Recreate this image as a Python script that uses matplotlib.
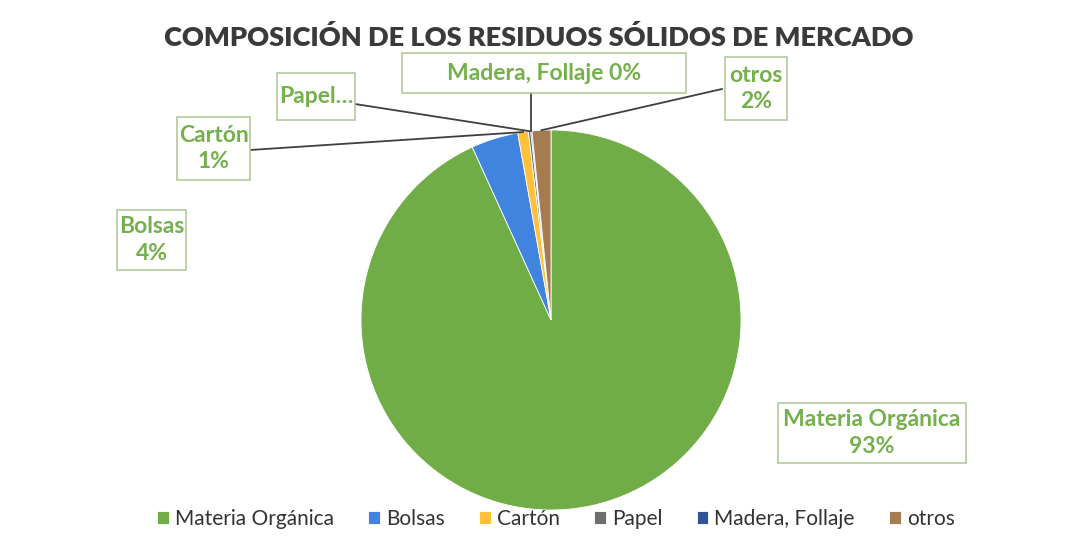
# Composición de los residuos sólidos de mercado - gráfico de pastel
import numpy as np
import matplotlib.pyplot as plt
from matplotlib.patches import Rectangle

categorias = ["Materia Orgánica", "Bolsas", "Cartón", "Papel", "Madera, Follaje", "otros"]
porcentajes = [93.2, 4.0, 0.9, 0.2, 0.1, 1.6]
etiquetas = ["Materia Orgánica\n93%", "Bolsas\n4%", "Cartón\n1%", "Papel…",
             "Madera, Follaje 0%", "otros\n2%"]
colores = ["#70AD47", "#4184E0", "#FFC13B", "#6E6E6E", "#2F5597", "#A57C52"]

W, H = 1081, 551
plt.rcParams['font.family'] = ['Lato', 'DejaVu Sans']


def Y(y):
    # coordenada en pixeles (desde arriba) -> datos
    return H - y


fig = plt.figure(figsize=(W / 100, H / 100), dpi=100)
ax = fig.add_axes([0, 0, 1, 1])

cx, cy, r = 551, 320, 190
wedges, _ = ax.pie(porcentajes, colors=colores, startangle=90, counterclock=False,
                   center=(cx, Y(cy)), radius=r,
                   wedgeprops=dict(edgecolor="white", linewidth=0.6))
ax.set_xlim(0, W)
ax.set_ylim(0, H)
ax.set_aspect("equal")
ax.axis("off")

# cajas de etiquetas: (x0, y0, x1, y1) en pixeles, y punto de unión de la línea guía
cajas = [
    (778, 403, 966, 463, None),
    (117, 210, 186, 270, None),
    (177, 117, 250, 180, (250, 150)),
    (277, 73, 355, 120, (355, 104)),
    (402, 53, 686, 93, "vertical"),
    (725, 57, 787, 120, (722, 89)),
]
color_texto = "#74B04C"
for w, txt, (x0, y0, x1, y1, ancla) in zip(wedges, etiquetas, cajas):
    ax.add_patch(Rectangle((x0, Y(y1)), x1 - x0, y1 - y0, facecolor="white",
                           edgecolor="#B3C99C", linewidth=1.2, zorder=3))
    ax.text((x0 + x1) / 2, Y((y0 + y1) / 2), txt, ha="center", va="center",
            fontsize=16.5, color=color_texto, fontweight="bold",
            linespacing=1.3, zorder=4)
    if ancla is None:
        continue
    ang = np.deg2rad((w.theta1 + w.theta2) / 2)
    px, py = cx + r * np.cos(ang), Y(cy) + r * np.sin(ang)
    if ancla == "vertical":
        ax.plot([px, px], [Y(y1), py], color="#3F3F3F", linewidth=1.3, zorder=2)
    else:
        ax.plot([ancla[0], px], [Y(ancla[1]), py], color="#3F3F3F", linewidth=1.3, zorder=2)

ax.text(539, Y(37), "COMPOSICIÓN DE LOS RESIDUOS SÓLIDOS DE MERCADO", ha="center",
        va="center", fontsize=19.5, fontweight="heavy", color="#3A3A3A")

leg = ax.legend(wedges, categorias, loc="center", bbox_to_anchor=(556 / W, 1 - 519 / H),
                ncol=6, frameon=False, fontsize=15, handlelength=0.55, handleheight=0.55,
                handletextpad=0.3, columnspacing=1.65)
for t in leg.get_texts():
    t.set_color("#333333")

fig.savefig("out.png", dpi=100)
